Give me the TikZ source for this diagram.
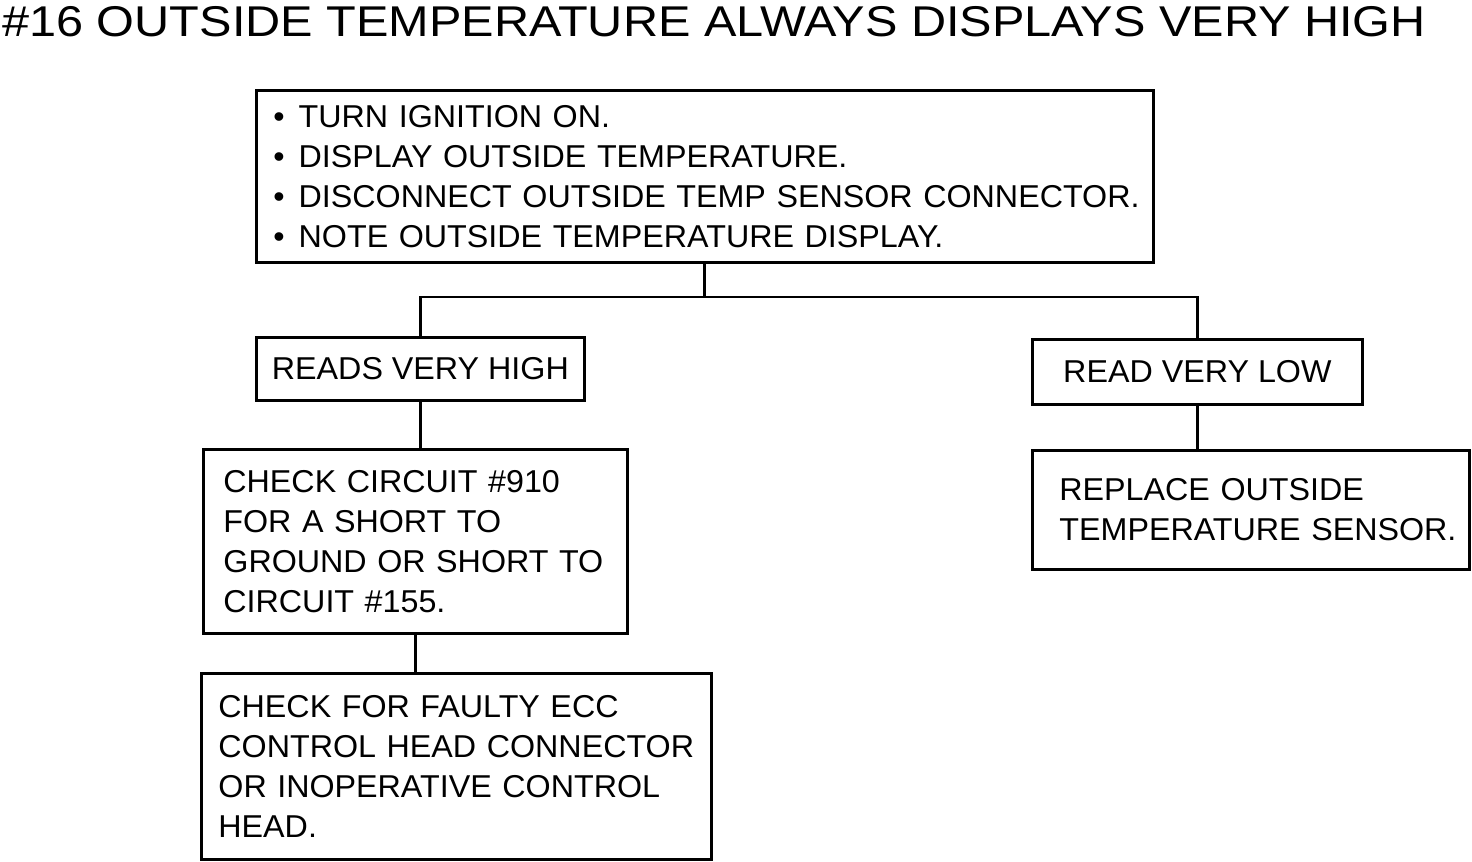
\documentclass[tikz,border=0pt]{standalone}
\usepackage{fontspec}
\setmainfont{Liberation Sans}
\newfontfamily\widefont[FakeStretch=1.13]{Liberation Sans}
\newfontfamily\boxfont[FakeStretch=1.02]{Liberation Sans}
\newcommand{\myline}[1]{\mbox{#1}}
\begin{document}
\begin{tikzpicture}[x=0.02cm,y=-0.02cm,
  box/.style={draw, line width=1.6pt, anchor=north west, align=left, font=\boxfont\fontsize{18}{22.7}\selectfont, inner ysep=0pt},
  conn/.style={line width=1.6pt}]
\useasboundingbox (0,0) rectangle (1472,862);
\node[anchor=north west, inner sep=0pt, font=\widefont\fontsize{24.5}{28}\selectfont] (title) at (2,6) {\#16 OUTSIDE TEMPERATURE ALWAYS DISPLAYS VERY HIGH};
\node[box, minimum width=17.94cm, minimum height=3.44cm, text width=17.26cm, inner xsep=0.34cm] (top) at (255,89)
 {\myline{\textbullet\hspace{0.28cm}TURN IGNITION ON.}\\
  \myline{\textbullet\hspace{0.28cm}DISPLAY OUTSIDE TEMPERATURE.}\\
  \myline{\textbullet\hspace{0.28cm}DISCONNECT OUTSIDE TEMP SENSOR CONNECTOR.}\\
  \myline{\textbullet\hspace{0.28cm}NOTE OUTSIDE TEMPERATURE DISPLAY.}};
\node[box, minimum width=6.56cm, minimum height=1.26cm, align=center, inner xsep=0pt] (rvh) at (255,336) {READS VERY HIGH};
\node[box, minimum width=6.6cm, minimum height=1.3cm, align=center, inner xsep=0pt] (rvl) at (1031,338) {READ VERY LOW};
\node[box, minimum width=8.48cm, minimum height=3.68cm, text width=7.68cm, inner xsep=0.4cm] (cc) at (202,448)
 {\myline{CHECK CIRCUIT \#910}\\\myline{FOR A SHORT TO}\\\myline{GROUND OR SHORT TO}\\\myline{CIRCUIT \#155.}};
\node[box, minimum width=8.74cm, minimum height=2.38cm, text width=7.66cm, inner xsep=0.54cm] (rep) at (1031,449)
 {\myline{REPLACE OUTSIDE}\\\myline{TEMPERATURE SENSOR.}};
\node[box, minimum width=10.2cm, minimum height=3.72cm, text width=9.52cm, inner xsep=0.34cm] (cf) at (200,672)
 {\myline{CHECK FOR FAULTY ECC}\\\myline{CONTROL HEAD CONNECTOR}\\\myline{OR INOPERATIVE CONTROL}\\\myline{HEAD.}};
\coordinate (j) at (703,297);
\draw[conn] (top.south) -- (top.south |- j);
\draw[conn] (rvh.north) |- (j) -| (rvl.north);
\draw[conn] (rvh.south) -- (rvh.south |- cc.north);
\draw[conn] (cc.south) -- (cc.south |- cf.north);
\draw[conn] (rvl.south) -- (rvl.south |- rep.north);
\end{tikzpicture}
\end{document}
